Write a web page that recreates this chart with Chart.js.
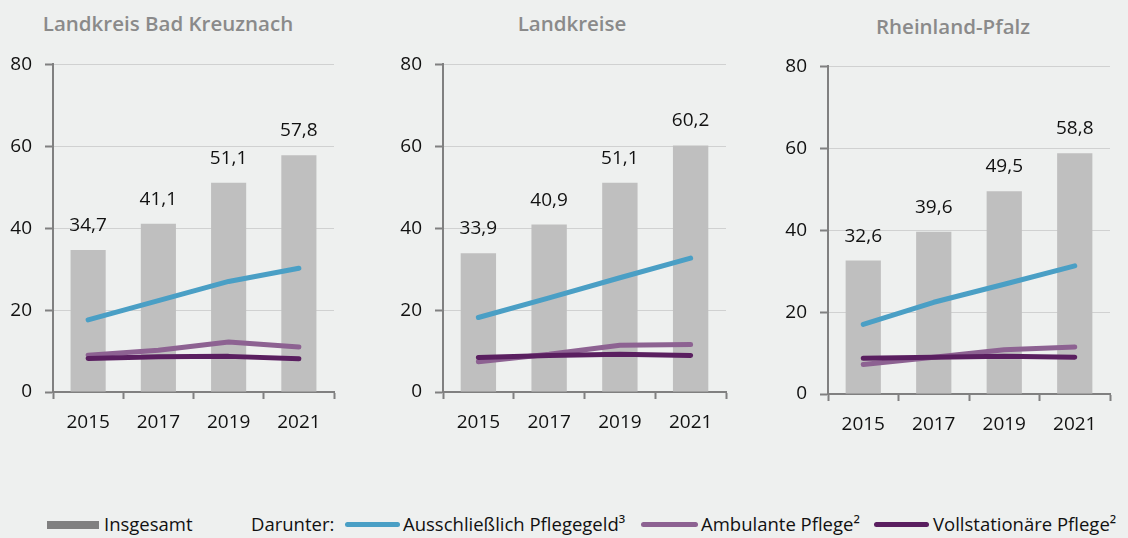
<!DOCTYPE html>
<html lang="de">
<head>
<meta charset="utf-8">
<title>Pflegebedürftige 2015–2021</title>
<script src="https://cdn.jsdelivr.net/npm/chart.js@4.4.1/dist/chart.umd.min.js"></script>
<style>
  body { margin: 0; background: #eef0ef; font-family: "Open Sans", sans-serif; }
  #wrap { position: relative; width: 1128px; height: 538px; overflow: hidden; }
  canvas { position: absolute; top: 40px; }
  .title { position: absolute; width: 400px; text-align: center; font-size: 20.5px; font-weight: 600; color: #8a8a8a; }
  .leg { position: absolute; top: 511px; font-size: 18.5px; color: #111; line-height: 26px; white-space: nowrap; }
  .sw { position: absolute; }
</style>
</head>
<body>
<div id="wrap">
  <div class="title" style="left:-32px; top:9px;">Landkreis Bad Kreuznach</div>
  <div class="title" style="left:372px; top:9px;">Landkreise</div>
  <div class="title" style="left:753px; top:12px;">Rheinland-Pfalz</div>

  <canvas id="c1" width="345" height="420" style="left:0px;"></canvas>
  <canvas id="c2" width="345" height="420" style="left:390px;"></canvas>
  <canvas id="c3" width="345" height="420" style="left:775px; top:42px;"></canvas>

  <div class="sw" style="left:47px; top:521px; width:52px; height:8px; background:#808080;"></div>
  <span class="leg" style="left:104px;">Insgesamt</span>
  <span class="leg" style="left:251px;">Darunter:</span>
  <div class="sw" style="left:345px; top:522px; width:55px; height:5px; border-radius:3px; background:#4a9fc5;"></div>
  <span class="leg" style="left:403px;">Ausschließlich Pflegegeld³</span>
  <div class="sw" style="left:641px; top:522px; width:57px; height:5px; border-radius:3px; background:#8d6292;"></div>
  <span class="leg" style="left:701px;">Ambulante Pflege²</span>
  <div class="sw" style="left:874px; top:522px; width:55px; height:5px; border-radius:3px; background:#5a1f60;"></div>
  <span class="leg" style="left:933px;">Vollstationäre Pflege²</span>
</div>

<script>
var years = ['2015', '2017', '2019', '2021'];
var yTicks = [0, 20, 40, 60, 80];

// Landkreis Bad Kreuznach
var kreuznachGesamt = [34.7, 41.1, 51.1, 57.8];
var kreuznachPflegegeld = [17.6, 22.3, 27.0, 30.2];
var kreuznachAmbulant = [9.0, 10.2, 12.2, 11.0];
var kreuznachStationaer = [8.2, 8.6, 8.7, 8.1];

// Landkreise
var landkreiseGesamt = [33.9, 40.9, 51.1, 60.2];
var landkreisePflegegeld = [18.2, 23.0, 27.9, 32.7];
var landkreiseAmbulant = [7.4, 9.2, 11.4, 11.6];
var landkreiseStationaer = [8.4, 8.9, 9.2, 8.9];

// Rheinland-Pfalz
var rlpGesamt = [32.6, 39.6, 49.5, 58.8];
var rlpPflegegeld = [17.0, 22.4, 26.8, 31.3];
var rlpAmbulant = [7.2, 9.0, 10.8, 11.5];
var rlpStationaer = [8.7, 9.0, 9.2, 9.0];

var textColor = '#111111';
var axisColor = '#808080';
var gridColor = '#d0d1d1';
var tickFont = { family: '"Open Sans", sans-serif', size: 19 };

// value labels above the grey bars, German decimal comma
var barLabels = {
  id: 'barLabels',
  afterDatasetsDraw: function (chart) {
    var ctx = chart.ctx;
    chart.data.datasets.forEach(function (ds, i) {
      if (ds.type !== 'bar') return;
      var meta = chart.getDatasetMeta(i);
      ctx.save();
      ctx.font = '19px "Open Sans", sans-serif';
      ctx.fillStyle = textColor;
      ctx.textAlign = 'center';
      ctx.textBaseline = 'alphabetic';
      meta.data.forEach(function (bar, j) {
        ctx.fillText(ds.data[j].toFixed(1).replace('.', ','), bar.x, bar.y - 19);
      });
      ctx.restore();
    });
  }
};

function lineSet(values, color, order) {
  return {
    type: 'line',
    data: values,
    borderColor: color,
    borderWidth: 5,
    borderCapStyle: 'round',
    borderJoinStyle: 'round',
    pointRadius: 0,
    tension: 0,
    fill: false,
    order: order
  };
}

function makeChart(id, gesamt, pflegegeld, ambulant, stationaer, padRight) {
  return new Chart(document.getElementById(id), {
    type: 'bar',
    data: {
      labels: years,
      datasets: [
        { type: 'bar', label: 'Insgesamt', data: gesamt, backgroundColor: '#bfbfbf',
          barPercentage: 1, categoryPercentage: 0.5, order: 4 },
        lineSet(pflegegeld, '#4a9fc5', 3),
        lineSet(ambulant, '#8d6292', 2),
        lineSet(stationaer, '#5a1f60', 1)
      ]
    },
    options: {
      responsive: false,
      animation: false,
      layout: { padding: { top: 22, right: padRight, left: 0, bottom: 0 } },
      plugins: { legend: { display: false }, tooltip: { enabled: false } },
      scales: {
        x: {
          offset: true,
          grid: {
            offset: true,
            color: function (c) { return c.index === years.length ? gridColor : 'rgba(0,0,0,0)'; },
            tickColor: axisColor,
            tickLength: 7,
            tickWidth: 2,
            lineWidth: 1
          },
          border: { color: axisColor, width: 2 },
          ticks: { color: textColor, font: tickFont, padding: 12 },
          afterFit: function (s) { s.height = 68; }
        },
        y: {
          min: 0,
          max: 80,
          afterBuildTicks: function (s) { s.ticks = yTicks.map(function (v) { return { value: v }; }); },
          ticks: { color: textColor, font: tickFont, padding: 13 },
          grid: { color: gridColor, tickColor: axisColor, tickLength: 8, tickWidth: 2 },
          border: { color: axisColor, width: 2 },
          afterFit: function (s) { s.width = 53; }
        }
      }
    },
    plugins: [barLabels]
  });
}

makeChart('c1', kreuznachGesamt, kreuznachPflegegeld, kreuznachAmbulant, kreuznachStationaer, 11);
makeChart('c2', landkreiseGesamt, landkreisePflegegeld, landkreiseAmbulant, landkreiseStationaer, 9);
makeChart('c3', rlpGesamt, rlpPflegegeld, rlpAmbulant, rlpStationaer, 10);
</script>
</body>
</html>
